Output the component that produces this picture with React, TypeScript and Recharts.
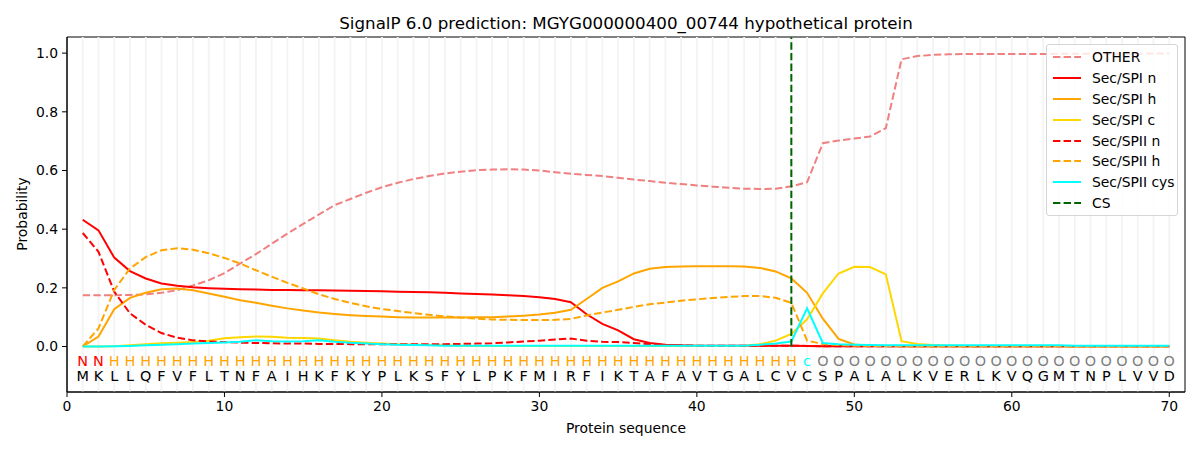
import { ComposedChart, Line, XAxis, YAxis, ReferenceLine, ReferenceArea, Scatter } from 'recharts';

const RESIDUES = 'MKLLQFVFLTNFAIHKFKYPLKSFYLPKFMIRFIKTAFAVTGALCVCSPALALKVERLKVQGMTNPLVVD'.split('');
const REGION_LABELS = ('NN' + 'H'.repeat(44) + 'c' + 'O'.repeat(23)).split('');
const POSITIONS = RESIDUES.map((_, i) => i + 1);
const CS_POSITION = 46;

const OTHER = [
  0.175, 0.175, 0.175, 0.176, 0.178, 0.183, 0.192, 0.208, 0.226, 0.25,
  0.283, 0.315, 0.35, 0.385, 0.418, 0.45, 0.482, 0.503, 0.524, 0.543,
  0.558, 0.571, 0.581, 0.59, 0.596, 0.601, 0.603, 0.604, 0.603, 0.6,
  0.594, 0.589, 0.585, 0.581, 0.575, 0.569, 0.564, 0.558, 0.554, 0.549,
  0.545, 0.541, 0.538, 0.537, 0.538, 0.546, 0.56, 0.693, 0.702, 0.709,
  0.716, 0.744, 0.979, 0.99, 0.994, 0.996, 0.997, 0.997, 0.997, 0.997,
  0.997, 0.997, 0.998, 0.998, 0.998, 0.998, 0.998, 0.998, 0.999, 0.999,
];
const SPI_N = [
  0.432, 0.396, 0.303, 0.257, 0.232, 0.215, 0.207, 0.202, 0.199, 0.197,
  0.195, 0.194, 0.193, 0.193, 0.192, 0.192, 0.191, 0.19, 0.189, 0.188,
  0.187, 0.186, 0.185, 0.183, 0.181, 0.179, 0.177, 0.175, 0.172, 0.168,
  0.162, 0.151, 0.11, 0.077, 0.055, 0.025, 0.012, 0.006, 0.004, 0.003,
  0.003, 0.003, 0.003, 0.003, 0.003, 0.003, 0.002, 0.001, 0.001, 0.001,
  0.001, 0.001, 0.001, 0.001, 0.001, 0.001, 0.001, 0.001, 0.001, 0.001,
  0.001, 0.001, 0.001, 0.001, 0.001, 0.001, 0.001, 0.001, 0.001, 0.001,
];
const SPI_H = [
  0.0, 0.034, 0.127, 0.166, 0.183, 0.195, 0.198, 0.192, 0.181, 0.17,
  0.158, 0.149, 0.139, 0.13, 0.123, 0.116, 0.111, 0.107, 0.104, 0.102,
  0.1, 0.099, 0.099, 0.099, 0.099, 0.1, 0.1, 0.102, 0.105, 0.109,
  0.115, 0.125, 0.162, 0.2, 0.222, 0.249, 0.265, 0.271, 0.273, 0.274,
  0.274, 0.274, 0.273, 0.268, 0.256, 0.232, 0.183, 0.095, 0.026, 0.007,
  0.003, 0.002, 0.001, 0.001, 0.001, 0.001, 0.001, 0.001, 0.001, 0.001,
  0.001, 0.001, 0.001, 0.001, 0.001, 0.001, 0.001, 0.001, 0.001, 0.001,
];
const SPI_C = [
  0.0, 0.0, 0.001, 0.004, 0.008, 0.011, 0.013, 0.015, 0.02, 0.028,
  0.032, 0.034, 0.033, 0.03, 0.029, 0.027, 0.021, 0.016, 0.013, 0.01,
  0.008, 0.006, 0.005, 0.004, 0.003, 0.002, 0.002, 0.002, 0.002, 0.002,
  0.002, 0.002, 0.002, 0.002, 0.002, 0.002, 0.002, 0.002, 0.002, 0.002,
  0.002, 0.002, 0.003, 0.008, 0.02, 0.043, 0.093, 0.181, 0.249, 0.272,
  0.271, 0.246, 0.018, 0.009, 0.005, 0.003, 0.002, 0.002, 0.002, 0.002,
  0.002, 0.002, 0.002, 0.001, 0.001, 0.001, 0.001, 0.001, 0.001, 0.001,
];
const SPII_N = [
  0.387, 0.323, 0.187, 0.113, 0.074, 0.046, 0.03, 0.021, 0.017, 0.015,
  0.013, 0.012, 0.011, 0.01, 0.01, 0.009, 0.009, 0.008, 0.008, 0.008,
  0.008, 0.008, 0.008, 0.008, 0.009, 0.01, 0.011, 0.014, 0.017, 0.02,
  0.024, 0.027, 0.02, 0.016, 0.015, 0.012, 0.008, 0.005, 0.004, 0.003,
  0.003, 0.003, 0.003, 0.003, 0.003, 0.003, 0.002, 0.001, 0.001, 0.001,
  0.001, 0.001, 0.001, 0.001, 0.001, 0.001, 0.001, 0.001, 0.001, 0.001,
  0.001, 0.001, 0.001, 0.001, 0.001, 0.001, 0.001, 0.001, 0.001, 0.001,
];
const SPII_H = [
  0.0, 0.062, 0.193, 0.266, 0.305, 0.328, 0.335, 0.33, 0.318, 0.302,
  0.283, 0.26, 0.238, 0.217, 0.198, 0.178, 0.162, 0.149, 0.137, 0.128,
  0.121, 0.114, 0.108, 0.103, 0.099, 0.095, 0.092, 0.091, 0.09, 0.09,
  0.091, 0.094, 0.106, 0.116, 0.125, 0.135, 0.144, 0.15, 0.156, 0.161,
  0.165, 0.169, 0.172, 0.172, 0.166, 0.149, 0.02, 0.009, 0.005, 0.003,
  0.002, 0.002, 0.001, 0.001, 0.001, 0.001, 0.001, 0.001, 0.001, 0.001,
  0.001, 0.001, 0.001, 0.001, 0.001, 0.001, 0.001, 0.001, 0.001, 0.001,
];
const SPII_CYS = [
  0.0, 0.0, 0.001, 0.002, 0.004, 0.006, 0.008, 0.01, 0.012, 0.014,
  0.016, 0.021, 0.018, 0.017, 0.018, 0.021, 0.016, 0.013, 0.01, 0.008,
  0.006, 0.005, 0.004, 0.003, 0.003, 0.003, 0.003, 0.003, 0.003, 0.003,
  0.003, 0.003, 0.003, 0.003, 0.003, 0.003, 0.003, 0.003, 0.003, 0.003,
  0.003, 0.003, 0.003, 0.006, 0.01, 0.017, 0.13, 0.012, 0.008, 0.006,
  0.005, 0.004, 0.004, 0.004, 0.004, 0.004, 0.004, 0.004, 0.004, 0.004,
  0.004, 0.004, 0.004, 0.003, 0.003, 0.003, 0.003, 0.003, 0.003, 0.003,
];

const X_TICKS = [0, 10, 20, 30, 40, 50, 60, 70];
const Y_TICKS = [0, 0.2, 0.4, 0.6, 0.8, 1.0];
const X_DOMAIN = [0, 71];
const Y_DOMAIN = [-0.155, 1.055];

const LABEL_COLORS: Record<string, string> = { N: '#ff0000', H: '#ffa500', c: '#00ffff', O: '#808080' };
const FONT = '"DejaVu Sans", sans-serif';
const DASH = '7.4 3.2';

const SERIES = [
  { key: 'other', name: 'OTHER', color: '#f08080', dashed: true },
  { key: 'spiN', name: 'Sec/SPI n', color: '#ff0000', dashed: false },
  { key: 'spiH', name: 'Sec/SPI h', color: '#ffa500', dashed: false },
  { key: 'spiC', name: 'Sec/SPI c', color: '#ffd700', dashed: false },
  { key: 'spiiN', name: 'Sec/SPII n', color: '#ff0000', dashed: true },
  { key: 'spiiH', name: 'Sec/SPII h', color: '#ffa500', dashed: true },
  { key: 'spiiCys', name: 'Sec/SPII cys', color: '#00ffff', dashed: false },
];

const rows = POSITIONS.map((pos, i) => ({
  pos,
  other: OTHER[i],
  spiN: SPI_N[i],
  spiH: SPI_H[i],
  spiC: SPI_C[i],
  spiiN: SPII_N[i],
  spiiH: SPII_H[i],
  spiiCys: SPII_CYS[i],
}));

const labelPoints = POSITIONS.map((pos, i) => ({ pos, y: -0.05, text: REGION_LABELS[i], color: LABEL_COLORS[REGION_LABELS[i]] }));
const residuePoints = POSITIONS.map((pos, i) => ({ pos, y: -0.1, text: RESIDUES[i], color: '#000' }));

function Letter(props: any) {
  const { cx, cy, payload } = props;
  return (
    <text x={cx} y={cy} dy="0.36em" textAnchor="middle" fontSize={14.4} fontFamily={FONT} fill={payload.color}>
      {payload.text}
    </text>
  );
}

function LegendBox() {
  const items = [...SERIES, { key: 'cs', name: 'CS', color: '#006400', dashed: true }];
  return (
    <div style={{
      position: 'absolute', left: 1046, top: 44, width: 132, height: 172, boxSizing: 'border-box',
      border: '1px solid #d6d6d6', borderRadius: 3, background: 'rgba(255,255,255,0.8)', padding: '2px 0 0 5px',
    }}>
      {items.map((s) => (
        <div key={s.key} style={{ display: 'flex', alignItems: 'center', height: 20.8 }}>
          <svg width={30} height={10} style={{ marginRight: 10 }}>
            <line x1={1} x2={29} y1={5} y2={5} stroke={s.color} strokeWidth={2} strokeDasharray={s.dashed ? DASH : undefined} />
          </svg>
          <span style={{ fontSize: 13.9, fontFamily: FONT, color: '#000', whiteSpace: 'nowrap' }}>{s.name}</span>
        </div>
      ))}
    </div>
  );
}

export default function App() {
  return (
    <div style={{ position: 'absolute', left: 0, top: 0, width: 1200, height: 450, background: '#fff', fontFamily: FONT }}>
      <div style={{ position: 'absolute', left: 67, width: 1118, top: 13, textAlign: 'center', fontSize: 16.7, color: '#000' }}>
        SignalP 6.0 prediction: MGYG000000400_00744 hypothetical protein
      </div>
      <ComposedChart width={1200} height={450} data={rows} margin={{ top: 37, right: 15, bottom: 28, left: 0 }}>
        {POSITIONS.map((p) => (
          <ReferenceLine key={`g${p}`} x={p} stroke="#f3f3f3" strokeWidth={1.8} />
        ))}
        <XAxis
          dataKey="pos"
          type="number"
          domain={X_DOMAIN}
          ticks={X_TICKS}
          allowDataOverflow
          height={30}
          tickSize={5}
          tickMargin={4}
          stroke="#000"
          tick={{ fill: '#000', fontSize: 13.9, fontFamily: FONT }}
        />
        <YAxis
          type="number"
          domain={Y_DOMAIN}
          ticks={Y_TICKS}
          allowDataOverflow
          width={67}
          tickSize={5}
          tickMargin={4}
          stroke="#000"
          tickFormatter={(v: number) => v.toFixed(1)}
          tick={{ fill: '#000', fontSize: 13.9, fontFamily: FONT }}
        />
        <ReferenceArea x1={X_DOMAIN[0]} x2={X_DOMAIN[1]} y1={Y_DOMAIN[0]} y2={Y_DOMAIN[1]} fill="none" stroke="#000" strokeWidth={1} fillOpacity={0} />
        {SERIES.map((s) => (
          <Line
            key={s.key}
            dataKey={s.key}
            name={s.name}
            stroke={s.color}
            strokeWidth={2}
            strokeDasharray={s.dashed ? DASH : undefined}
            dot={false}
            activeDot={false}
            type="linear"
            isAnimationActive={false}
          />
        ))}
        <ReferenceLine
          segment={[{ x: CS_POSITION, y: 0 }, { x: CS_POSITION, y: Y_DOMAIN[1] }]}
          stroke="#006400"
          strokeWidth={2}
          strokeDasharray={DASH}
        />
        <Scatter data={labelPoints} dataKey="y" shape={Letter} isAnimationActive={false} />
        <Scatter data={residuePoints} dataKey="y" shape={Letter} isAnimationActive={false} />
      </ComposedChart>
      <LegendBox />
      <div style={{ position: 'absolute', left: 67, width: 1118, top: 420, textAlign: 'center', fontSize: 13.9, color: '#000' }}>
        Protein sequence
      </div>
      <div style={{
        position: 'absolute', left: 22, top: 214, transform: 'translate(-50%, -50%) rotate(-90deg)',
        fontSize: 13.9, color: '#000', whiteSpace: 'nowrap',
      }}>
        Probability
      </div>
    </div>
  );
}
